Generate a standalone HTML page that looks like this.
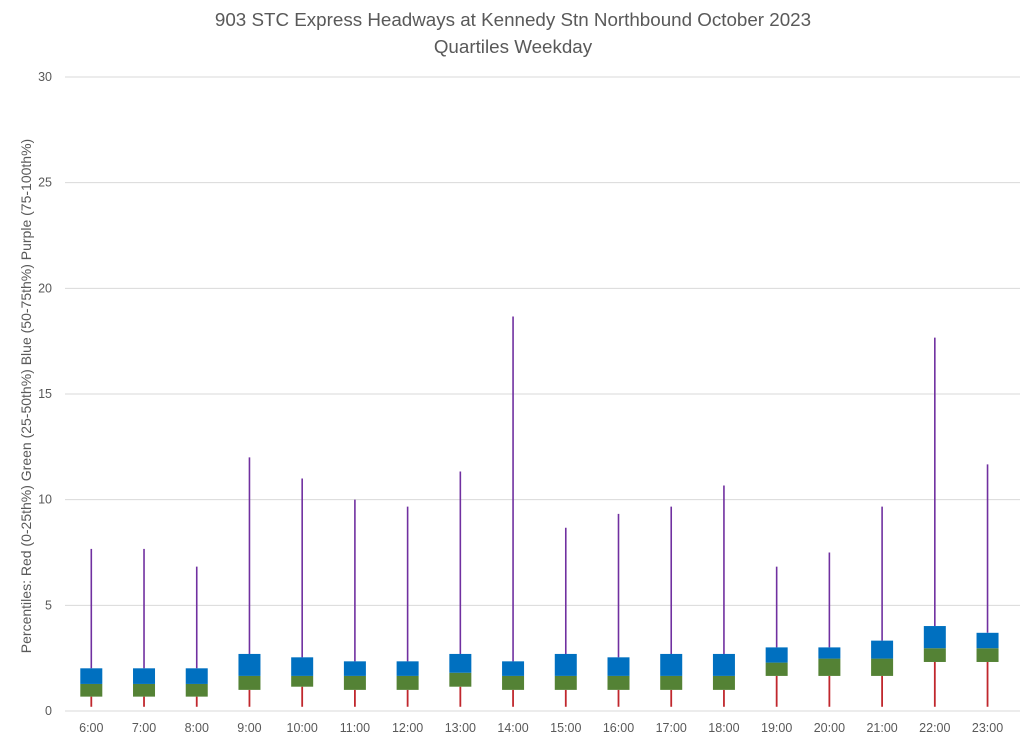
<!DOCTYPE html>
<html><head><meta charset="utf-8"><style>
body{margin:0;background:#fff;}
svg{display:block;font-family:"Liberation Sans",sans-serif;}
</style></head><body>
<svg id="chart" width="1024" height="746">
<text x="513" y="26" text-anchor="middle" font-size="18.8" fill="#595959">903 STC Express Headways at Kennedy Stn Northbound October 2023</text>
<text x="513" y="53" text-anchor="middle" font-size="18.8" fill="#595959">Quartiles Weekday</text>
<text transform="translate(31,396) rotate(-90)" text-anchor="middle" font-size="14" fill="#595959">Percentiles:  Red (0-25th%)  Green (25-50th%)  Blue (50-75th%)  Purple (75-100th%)</text>
<g id="grid"></g><g id="marks"></g>
</svg>
<script>
const categories=["6:00","7:00","8:00","9:00","10:00","11:00","12:00","13:00","14:00","15:00","16:00","17:00","18:00","19:00","20:00","21:00","22:00","23:00"];
const minVals=[0.2,0.2,0.2,0.2,0.2,0.2,0.2,0.2,0.2,0.2,0.2,0.2,0.2,0.2,0.2,0.2,0.2,0.2];
const q1Vals=[0.68,0.68,0.68,1.0,1.15,1.0,1.0,1.15,1.0,1.0,1.0,1.0,1.0,1.66,1.66,1.66,2.32,2.32];
const medVals=[1.28,1.28,1.28,1.66,1.66,1.66,1.66,1.81,1.66,1.66,1.66,1.66,1.66,2.29,2.48,2.48,2.97,2.97];
const q3Vals=[2.02,2.02,2.02,2.7,2.54,2.35,2.35,2.7,2.35,2.7,2.54,2.7,2.7,3.01,3.01,3.33,4.02,3.7];
const maxVals=[7.67,7.67,6.83,12,11,10,9.67,11.33,18.67,8.67,9.33,9.67,10.67,6.83,7.5,9.67,17.67,11.67];
const yTicks=[0,5,10,15,20,25,30];
const NS="http://www.w3.org/2000/svg";
const y=v=>711-v*(634/30);
const x=i=>91.3+i*52.72;
const grid=document.getElementById('grid'),marks=document.getElementById('marks');
function mk(tag,at,parent){const e=document.createElementNS(NS,tag);for(const k in at)e.setAttribute(k,at[k]);parent.appendChild(e);return e;}
yTicks.forEach(t=>{
 const l=mk('line',{x1:65,x2:1020,y1:y(t),y2:y(t),stroke:'#d9d9d9','stroke-width':1},grid);
 
 
 const tx=mk('text',{x:52,y:y(t)+4,'text-anchor':'end','font-size':12.5,fill:'#595959'},grid);
 tx.textContent=t;
 
 
});
categories.forEach((c,i)=>{
 const cx=x(i),w=22;
 const r=mk('line',{x1:cx,x2:cx,y1:y(minVals[i]),y2:y(q1Vals[i]),stroke:'#C0272D','stroke-width':1.8},marks);
 
 
 const p=mk('line',{x1:cx,x2:cx,y1:y(q3Vals[i]),y2:y(maxVals[i]),stroke:'#7030A0','stroke-width':1.6},marks);
 
 
 const g=mk('rect',{x:cx-w/2,y:y(medVals[i]),width:w,height:y(q1Vals[i])-y(medVals[i]),fill:'#548235'},marks);
 
 
 const b=mk('rect',{x:cx-w/2,y:y(q3Vals[i]),width:w,height:y(medVals[i])-y(q3Vals[i]),fill:'#0070C0'},marks);
 
 
 const t=mk('text',{x:cx,y:732,'text-anchor':'middle','font-size':12.5,fill:'#595959'},marks);
 t.textContent=c;
 
 
});
</script>
</body></html>
